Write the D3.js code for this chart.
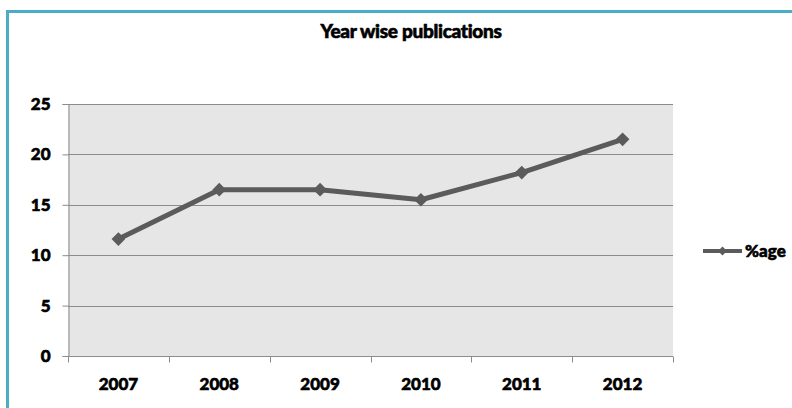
<!DOCTYPE html>
<html>
<head>
<meta charset="utf-8">
<script src="https://cdn.jsdelivr.net/npm/d3@7"></script>
<style>
  body { margin: 0; background: #fff; }
  text { font-family: Lato, "Open Sans", sans-serif; font-weight: 900; fill: #000; stroke: #000; stroke-width: 0.6px; }
</style>
</head>
<body>
<svg id="chart"></svg>
<script>
// data
const years = ['2007', '2008', '2009', '2010', '2011', '2012'];
const values = [11.6, 16.5, 16.5, 15.5, 18.2, 21.5];
const yTicks = [0, 5, 10, 15, 20, 25];
const seriesName = '%age';
const chartTitle = 'Year wise publications';

const width = 792, height = 408;
const margin = { top: 104, right: 119, bottom: 52, left: 68 };
const innerW = width - margin.left - margin.right;
const innerH = height - margin.top - margin.bottom;

const svg = d3.select('#chart')
  .attr('width', width)
  .attr('height', height);

// teal frame (only top and left visible)
svg.append('path')
  .attr('d', `M7.5,${height} V11.5 H${width}`)
  .attr('fill', 'none')
  .attr('stroke', '#4bacc6')
  .attr('stroke-width', 3);

svg.append('text')
  .attr('x', 411)
  .attr('y', 38)
  .attr('text-anchor', 'middle')
  .style('font-size', '19px')
  .style('letter-spacing', '-0.3px')
  .text(chartTitle);

const g = svg.append('g')
  .attr('transform', `translate(${margin.left},${margin.top})`);

const x = d3.scaleBand().domain(years).range([0, innerW]);
const y = d3.scaleLinear().domain([0, 25]).range([innerH, 0]);

// plot background
g.append('rect')
  .attr('width', innerW)
  .attr('height', innerH)
  .attr('fill', '#e6e6e6');

// gridlines
g.selectAll('.grid')
  .data(yTicks.filter(d => d > 0))
  .enter().append('line')
  .attr('class', 'grid')
  .attr('x1', 0).attr('x2', innerW)
  .attr('y1', d => Math.round(y(d)) + 0.5)
  .attr('y2', d => Math.round(y(d)) + 0.5)
  .attr('stroke', '#8c8c8c');

// y axis
const yAxis = g.append('g')
  .attr('transform', 'translate(0.5,0)')
  .call(d3.axisLeft(y).tickValues(yTicks).tickSize(6).tickPadding(12));
yAxis.select('.domain').attr('stroke', '#8c8c8c');
yAxis.selectAll('.tick line').attr('stroke', '#8c8c8c');
yAxis.selectAll('.tick text').style('font-size', '17px').style('font-family', 'Lato, sans-serif');

// x axis: ticks on category boundaries
const xAxis = g.append('g')
  .attr('transform', `translate(0,${innerH + 0.5})`);
xAxis.append('line')
  .attr('x1', 0).attr('x2', innerW)
  .attr('stroke', '#8c8c8c');
xAxis.selectAll('.xtick')
  .data(years.concat(['end']))
  .enter().append('line')
  .attr('class', 'xtick')
  .attr('x1', (d, i) => Math.round(i * x.step()) + 0.5)
  .attr('x2', (d, i) => Math.round(i * x.step()) + 0.5)
  .attr('y1', 0).attr('y2', 6)
  .attr('stroke', '#8c8c8c');
xAxis.selectAll('.xlabel')
  .data(years)
  .enter().append('text')
  .attr('class', 'xlabel')
  .attr('x', d => x(d) + x.bandwidth() / 2)
  .attr('y', 33)
  .attr('text-anchor', 'middle')
  .style('font-size', '17px')
  .text(d => d);

// series line
const line = d3.line()
  .x((d, i) => x(years[i]) + x.bandwidth() / 2)
  .y(d => y(d));

g.append('path')
  .datum(values)
  .attr('d', line)
  .attr('fill', 'none')
  .attr('stroke', '#5b5b5b')
  .attr('stroke-width', 5)
  .attr('stroke-linejoin', 'round');

const diamond = d3.symbol().type(d3.symbolDiamond2).size(120);
g.selectAll('.marker')
  .data(values)
  .enter().append('path')
  .attr('class', 'marker')
  .attr('transform', (d, i) => `translate(${x(years[i]) + x.bandwidth() / 2},${y(d)})`)
  .attr('d', diamond)
  .attr('fill', '#5b5b5b');

// legend
const legend = svg.append('g').attr('transform', 'translate(703,251)');
legend.append('line')
  .attr('x1', 0).attr('x2', 39)
  .attr('stroke', '#5b5b5b')
  .attr('stroke-width', 4);
legend.append('path')
  .attr('transform', 'translate(19.5,0)')
  .attr('d', d3.symbol().type(d3.symbolDiamond2).size(50))
  .attr('fill', '#5b5b5b');
legend.append('text')
  .attr('x', 42)
  .attr('y', 6)
  .style('font-size', '17px')
  .text(seriesName);
</script>
</body>
</html>
